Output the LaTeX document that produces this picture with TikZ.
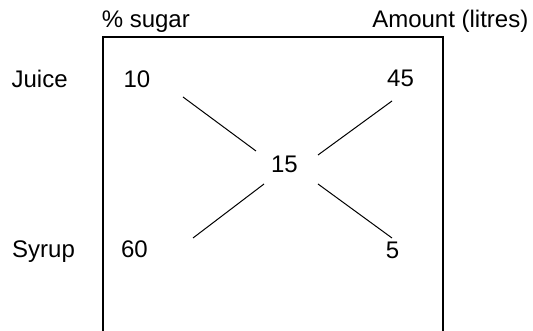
\documentclass[tikz,border=0pt]{standalone}
\usepackage{fontspec}
\setmainfont{Liberation Sans}
\begin{document}
\begin{tikzpicture}[x=1pt,y=1pt,
  lbl/.style={inner sep=0pt,font=\fontsize{24}{28}\selectfont,text=black},
  frame/.style={draw=black,line width=2pt},
  cross/.style={draw=black,line width=1pt}]
\useasboundingbox (0,0) rectangle (533,331);
\draw[frame] (102.5,-1) -- (102.5,294) -- (443,294) -- (443,-1);
\node[lbl,anchor=base west] (sugar) at (101.6,303) {\% sugar};
\node[lbl,anchor=base east] (amount) at (528.5,303) {Amount (litres)};
\node[lbl,anchor=base west] (juice) at (11.4,243.5) {Juice};
\node[lbl,anchor=base west] (syrup) at (12,73) {Syrup};
\node[lbl,anchor=base] (ten) at (137,243.5) {10};
\node[lbl,anchor=base] (sixty) at (134.5,73) {60};
\node[lbl,anchor=base] (fortyfive) at (400.5,244) {45};
\node[lbl,anchor=base] (five) at (392.5,72) {5};
\node[lbl,anchor=base] (fifteen) at (284.5,158) {15};
\coordinate (a1) at (183,234);
\coordinate (a2) at (256,180);
\coordinate (b1) at (392,230);
\coordinate (b2) at (318,176);
\coordinate (c1) at (264,147);
\coordinate (c2) at (193,93);
\coordinate (d1) at (318,147);
\coordinate (d2) at (392,93);
\draw[cross] (a1) -- (a2);
\draw[cross] (b1) -- (b2);
\draw[cross] (c1) -- (c2);
\draw[cross] (d1) -- (d2);
\end{tikzpicture}
\end{document}
